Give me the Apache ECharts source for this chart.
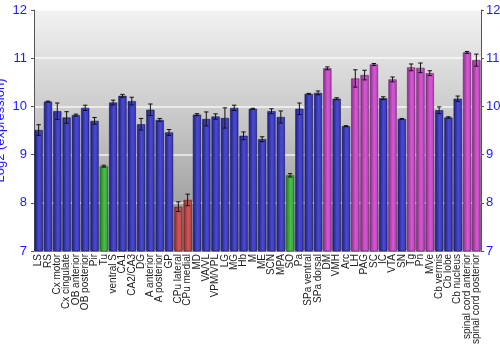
<!DOCTYPE html>
<html>
<head>
<meta charset="utf-8">
<script src="https://cdn.jsdelivr.net/npm/echarts@6/dist/echarts.min.js"></script>
<style>
  html, body { margin: 0; padding: 0; background: #ffffff; }
  #chart { width: 500px; height: 350px; }
</style>
</head>
<body>
<div id="chart"></div>
<script>
// Brain regions (x categories)
var regions = [
  'LS', 'RS', 'Cx motor', 'Cx cingulate', 'OB anterior', 'OB posterior', 'Pir', 'Tu',
  'ventral S', 'CA1', 'CA2/CA3', 'DG', 'A anterior', 'A posterior', 'GP',
  'CPu lateral', 'CPu medial', 'MD', 'VA/VL', 'VPM/VPL', 'LG', 'MG', 'Hb', 'M',
  'ME', 'SCN', 'MPA', 'SO', 'Pa', 'SPa ventral', 'SPa dorsal', 'DM', 'VMH', 'Arc',
  'LH', 'PAG', 'SC', 'IC', 'VTA', 'SN', 'Tg', 'Pn', 'MVe', 'Cb vermis', 'Cb lobe',
  'Cb nucleus', 'spinal cord anterior', 'spinal cord posterior'
];

// Mean log2 expression per region
var expression = [
  9.51, 10.10, 9.90, 9.77, 9.82, 9.97, 9.70, 8.76,
  10.08, 10.22, 10.11, 9.63, 9.93, 9.72, 9.46,
  7.92, 8.06, 9.83, 9.74, 9.79, 9.76, 9.97, 9.39, 9.95,
  9.32, 9.90, 9.78, 8.57, 9.95, 10.26, 10.28, 10.79, 10.16, 9.59,
  10.58, 10.65, 10.87, 10.17, 10.56, 9.74, 10.81, 10.80, 10.69, 9.92, 9.77,
  10.16, 11.12, 10.96
];

// Standard error (half-height of each error bar)
var stdError = [
  0.11, 0.01, 0.17, 0.12, 0.02, 0.055, 0.07, 0.02,
  0.05, 0.03, 0.08, 0.12, 0.12, 0.03, 0.06,
  0.10, 0.12, 0.02, 0.145, 0.055, 0.21, 0.055, 0.08, 0.01,
  0.05, 0.05, 0.125, 0.035, 0.12, 0.01, 0.04, 0.03, 0.02, 0.01,
  0.18, 0.10, 0.02, 0.03, 0.05, 0.01, 0.07, 0.10, 0.05, 0.07, 0.015,
  0.055, 0.02, 0.125
];

// Color group for each region: b = blue, g = green, r = red, m = magenta
var groups = [
  'b', 'b', 'b', 'b', 'b', 'b', 'b', 'g',
  'b', 'b', 'b', 'b', 'b', 'b', 'b',
  'r', 'r', 'b', 'b', 'b', 'b', 'b', 'b', 'b',
  'b', 'b', 'b', 'g', 'b', 'b', 'b', 'm', 'b', 'b',
  'm', 'm', 'm', 'b', 'm', 'b', 'm', 'm', 'm', 'b', 'b',
  'b', 'm', 'm'
];

var yTicks = [7, 8, 9, 10, 11, 12];

var palette = {
  b: { dark: '#1c1c7a', mid: '#3a3ac4', light: '#4b4bd0', edge: '#1a1a60' },
  g: { dark: '#1f7a1f', mid: '#3aaa3a', light: '#4cbc4c', edge: '#1c5a1c' },
  r: { dark: '#8a2626', mid: '#c04848', light: '#cc5a5a', edge: '#6a1e1e' },
  m: { dark: '#8a2a8a', mid: '#c448c4', light: '#d35ad3', edge: '#6a206a' }
};

function barFill(key) {
  var p = palette[key];
  return new echarts.graphic.LinearGradient(0, 0, 1, 0, [
    { offset: 0, color: p.dark },
    { offset: 0.55, color: p.light },
    { offset: 0.85, color: p.mid },
    { offset: 1, color: p.dark }
  ]);
}

var barData = expression.map(function (v, i) {
  return {
    value: v,
    itemStyle: { color: barFill(groups[i]), borderColor: palette[groups[i]].edge, borderWidth: 0.6 }
  };
});

var errData = expression.map(function (v, i) {
  return [i, v - stdError[i], v + stdError[i]];
});

var chart = echarts.init(document.getElementById('chart'), null, { renderer: 'canvas' });

var axisLabelStyle = { color: '#1a1aff', fontSize: 13, fontFamily: 'Liberation Sans, Arial, sans-serif' };

chart.setOption({
  animation: false,
  grid: {
    left: 34, right: 19, top: 10, bottom: 99,
    containLabel: false,
    outerBoundsMode: 'none',
    show: true,
    borderWidth: 0,
    backgroundColor: new echarts.graphic.LinearGradient(0, 0, 0, 1, [
      { offset: 0, color: '#f2f2f2' },
      { offset: 0.45, color: '#c8c8c8' },
      { offset: 1, color: '#8e8e8e' }
    ])
  },
  xAxis: {
    type: 'category',
    data: regions,
    axisLine: { show: true, lineStyle: { color: '#999999' } },
    axisTick: { show: false },
    axisLabel: {
      rotate: 90, interval: 0, margin: 3,
      color: '#222222', fontSize: 10,
      fontFamily: 'Liberation Sans, Arial, sans-serif'
    }
  },
  yAxis: [
    {
      type: 'value', min: 7, max: 12, interval: 1,
      name: 'Log2 (expression)',
      nameLocation: 'middle', nameGap: 27,
      nameMoveOverlap: false,
      nameTextStyle: { color: '#1a1aff', fontSize: 13, fontFamily: 'Liberation Sans, Arial, sans-serif' },
      axisLine: { show: true, lineStyle: { color: '#555555' } },
      axisTick: { show: true, length: 3, lineStyle: { color: '#555555' } },
      axisLabel: Object.assign({ margin: 7, formatter: function (v) { return yTicks.indexOf(v) >= 0 ? String(v) : ''; } }, axisLabelStyle),
      splitLine: { show: true, lineStyle: { color: '#ffffff', width: 1.5, opacity: 0.8 } }
    },
    {
      type: 'value', min: 7, max: 12, interval: 1, position: 'right',
      axisLine: { show: true, lineStyle: { color: '#555555' } },
      axisTick: { show: true, length: 3, lineStyle: { color: '#555555' } },
      axisLabel: Object.assign({ margin: 5 }, axisLabelStyle),
      splitLine: { show: false }
    }
  ],
  series: [
    {
      type: 'bar',
      data: barData,
      barCategoryGap: '12%',
      z: 2
    },
    {
      type: 'custom',
      data: errData,
      z: 3,
      renderItem: function (params, api) {
        var x = api.value(0);
        var lo = api.coord([x, api.value(1)]);
        var hi = api.coord([x, api.value(2)]);
        var cap = 2.2;
        var style = { stroke: '#111111', lineWidth: 1 };
        return {
          type: 'group',
          children: [
            { type: 'line', shape: { x1: lo[0], y1: lo[1], x2: hi[0], y2: hi[1] }, style: style },
            { type: 'line', shape: { x1: lo[0] - cap, y1: lo[1], x2: lo[0] + cap, y2: lo[1] }, style: style },
            { type: 'line', shape: { x1: hi[0] - cap, y1: hi[1], x2: hi[0] + cap, y2: hi[1] }, style: style }
          ]
        };
      }
    }
  ]
});
</script>
</body>
</html>
